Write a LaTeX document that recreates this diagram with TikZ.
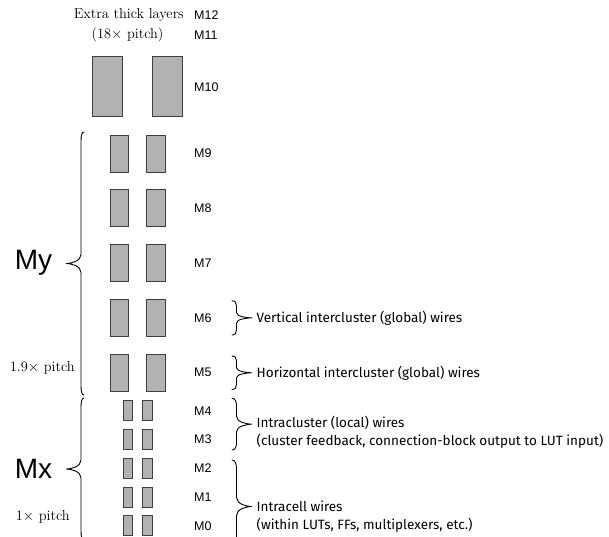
\documentclass[tikz,border=0pt]{standalone}
\usepackage{fontspec}
\newfontfamily\labfont{Liberation Sans}
\newfontfamily\descfont{Fira Sans}
\newcommand\mybrace[6]{%
 \pgfmathsetmacro\bm{(#2+#3)/2}%
 \pgfmathsetmacro\bh{(#3-#2)/2}%
 \pgfmathsetmacro\bc{min(9,0.3*\bh)}%
 \pgfmathsetmacro\bl{#1+#4*#5}%
 \pgfmathsetmacro\bt{#1+#4*#6}%
 \pgfmathsetmacro\be{#1+#4*#5*0.7}%
 \pgfmathsetmacro\bq{\bt-#4*5}%
 \draw[bracepath] (#1,#2) .. controls (\be,#2) and (\bl,#2+\bc*0.4) .. (\bl,#2+\bc)
   -- (\bl,\bm-\bc) .. controls (\bl,\bm-\bc*0.25) and (\bq,\bm) .. (\bt,\bm)
   .. controls (\bq,\bm) and (\bl,\bm+\bc*0.25) .. (\bl,\bm+\bc)
   -- (\bl,#3-\bc) .. controls (\bl,#3-\bc*0.4) and (\be,#3) .. (#1,#3);%
}
\begin{document}
\begin{tikzpicture}[x=1pt,y=-1pt,
  wire/.style={fill=black!30,draw=black!75,line width=0.9pt},
  mlab/.style={anchor=west,inner sep=0pt,font=\labfont\fontsize{12.5}{14}\selectfont},
  biglab/.style={inner sep=0pt,font=\labfont\fontsize{28}{30}\selectfont},
  serif/.style={inner sep=0pt,font=\fontsize{14.4}{17}\selectfont},
  desc/.style={anchor=west,inner sep=0pt,align=left,font=\descfont\fontsize{13.5}{17.5}\selectfont},
  bracepath/.style={line width=0.9pt,line cap=round}]
\useasboundingbox (0,0) rectangle (609,536);

% top texts
\node[serif] (extra) at (128.8,15) {Extra thick layers};
\node[serif] (eighteen) at (127.5,35) {(18$\times$ pitch)};
\node[mlab] (m12) at (194,15) {M12};
\node[mlab] (m11) at (194,35) {M11};

% M10
\draw[wire] (92.3,56.7) rectangle (122.3,116);
\draw[wire] (152.3,56.7) rectangle (182,116);
\node[mlab] (m10) at (194,87) {M10};

% My layers
\foreach \i/\lab in {0/M9,1/M8,2/M7,3/M6,4/M5}{
  \pgfmathsetmacro\t{135+54.8*\i}
  \draw[wire] (110,\t) rectangle ++(18.3,37);
  \draw[wire] (146.7,\t) rectangle ++(18.3,37);
  \node[mlab] (\lab) at (194,\t+18.5) {\lab};
}

% Mx layers
\foreach \i/\lab in {0/M4,1/M3,2/M2,3/M1,4/M0}{
  \pgfmathsetmacro\t{400.7+28.8*\i}
  \draw[wire] (123.3,\t) rectangle ++(9.4,20);
  \draw[wire] (142.7,\t) rectangle ++(9.6,20);
  \node[mlab] (\lab) at (194,\t+10) {\lab};
}

% left braces
\mybrace{84}{132}{395}{-1}{3}{18}
\node[biglab] (My) at (33.5,263) {My};
\node[serif,anchor=east] (pitchy) at (75,368) {1.9$\times$ pitch};

\mybrace{84}{398}{540}{-1}{3}{18}
\node[biglab] (Mx) at (33.5,469) {Mx};
\node[serif,anchor=east] (pitchx) at (70,517) {1$\times$ pitch};

% right braces
\mybrace{232}{300.7}{335}{1}{4.5}{20}
\node[desc] (vert) at (256.5,318) {Vertical intercluster (global) wires};

\mybrace{232}{356}{389.5}{1}{4.5}{20}
\node[desc] (horiz) at (256.5,373) {Horizontal intercluster (global) wires};

\mybrace{232}{398.3}{450}{1}{4.5}{20}
\node[desc] (intra) at (256.5,432.4) {Intracluster (local) wires\\(cluster feedback, connection-block output to LUT input)};

\mybrace{232}{460}{553}{1}{4.5}{20}
\node[desc] (cell) at (256.5,516.8) {Intracell wires\\(within LUTs, FFs, multiplexers, etc.)};
\end{tikzpicture}
\end{document}
